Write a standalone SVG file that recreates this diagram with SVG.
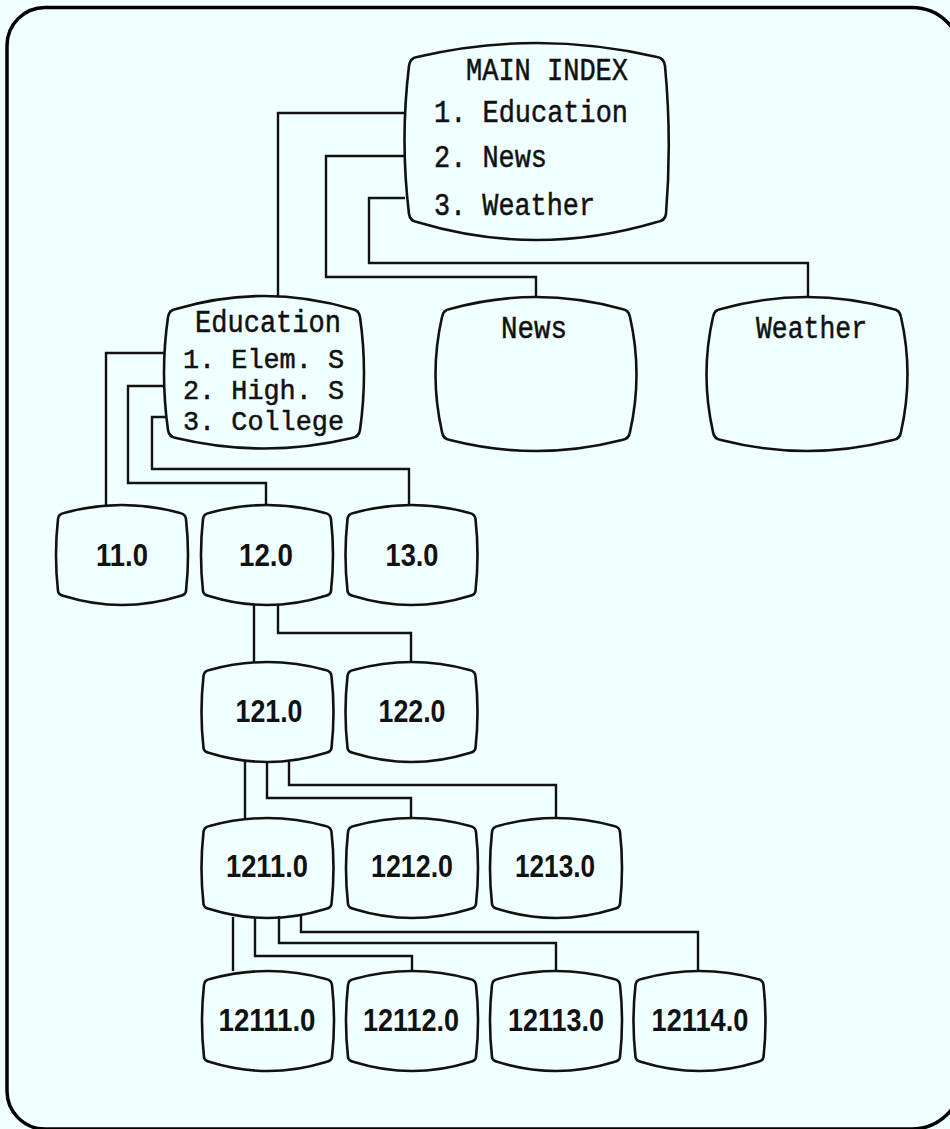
<svg xmlns="http://www.w3.org/2000/svg" xmlns:xlink="http://www.w3.org/1999/xlink" width="950" height="1129" viewBox="0 0 950 1129">
<style>
.bg{fill:#f0ffff}
.frame{fill:none;stroke:#000;stroke-width:3.5}
.box{fill:none;stroke:#111;stroke-width:2.6;stroke-linejoin:round}
.conn{fill:none;stroke:#111;stroke-width:2.4;stroke-linejoin:miter}
.tw{font-family:"Liberation Mono","Courier New",monospace;font-size:31px;fill:#111;stroke:#111;stroke-width:0.5}
.tws{font-size:28px}
.num{font-family:"Liberation Sans",Arial,sans-serif;font-weight:bold;font-size:31px;fill:#111;text-anchor:middle}
</style>
<defs>
<path id="tv" d="M-58,8 Q0,-8 58,8 Q63.5,9 64,14 Q68,50 64,86 Q63.5,90 58,91 Q0,109 -58,91 Q-63.5,90 -64,86 Q-68,50 -64,14 Q-63.5,9 -58,8 Z"/>
</defs>
<rect class="bg" x="0" y="0" width="950" height="1129"/>
<path class="frame" d="M45,7.5 H912 A50,50 0 0 1 962,57.5 V1079 A50,50 0 0 1 912,1129 H45 A38,38 0 0 1 7,1091 V45.5 A38,38 0 0 1 45,7.5 Z"/>

<g id="connectors">
<path class="conn" d="M405,113 H278 V297"/>
<path class="conn" d="M404,156 H326 V277 H536 V297"/>
<path class="conn" d="M405,198 H369 V263 H808 V297"/>
<path class="conn" d="M164,353 H106 V506"/>
<path class="conn" d="M165,386 H128 V483 H266 V506"/>
<path class="conn" d="M166,417 H152 V469 H409 V506"/>
<path class="conn" d="M254,604 V662"/>
<path class="conn" d="M278,604 V633 H411 V662"/>
<path class="conn" d="M245,761 V818"/>
<path class="conn" d="M267,761 V798 H411 V818"/>
<path class="conn" d="M289,760 V785 H556 V818"/>
<path class="conn" d="M233,917 V971"/>
<path class="conn" d="M255,917 V956 H412 V971"/>
<path class="conn" d="M279,916 V943 H556 V971"/>
<path class="conn" d="M301,915 V932 H698 V971"/>
</g>

<g id="main-index">
<path class="box" d="M417,57 Q536,29 657,57 Q664,58 665,66 Q672,140 666,214 Q665,221 657,222 Q536,258 417,222 Q410,221 409,214 Q400,140 409,66 Q410,58 417,57 Z"/>
<text class="tw" x="466" y="80" textLength="162" lengthAdjust="spacingAndGlyphs">MAIN INDEX</text>
<text class="tw" x="434" y="122" textLength="194" lengthAdjust="spacingAndGlyphs">1. Education</text>
<text class="tw" x="434" y="167" textLength="113" lengthAdjust="spacingAndGlyphs">2. News</text>
<text class="tw" x="434" y="215" textLength="161" lengthAdjust="spacingAndGlyphs">3. Weather</text>
</g>

<g id="education">
<path class="box" d="M176,309 Q264,283 352,309 Q359,310 360,317 Q368,373 360,430 Q359,437 352,438 Q264,459 176,438 Q169,437 168,430 Q160,373 168,317 Q169,310 176,309 Z"/>
<text class="tw" x="195" y="332" textLength="146" lengthAdjust="spacingAndGlyphs">Education</text>
<text class="tw tws" x="183" y="368" textLength="161" lengthAdjust="spacingAndGlyphs">1. Elem. S</text>
<text class="tw tws" x="183" y="399" textLength="161" lengthAdjust="spacingAndGlyphs">2. High. S</text>
<text class="tw tws" x="183" y="430" textLength="161" lengthAdjust="spacingAndGlyphs">3. College</text>
</g>

<g id="news">
<path class="box" d="M450,309 Q536,285 622,309 Q629,310 630,317 Q643,374 630,432 Q629,439 622,440 Q536,462 450,440 Q443,439 442,432 Q429,374 442,317 Q443,310 450,309 Z"/>
<text class="tw" x="501" y="338" textLength="66" lengthAdjust="spacingAndGlyphs">News</text>
</g>

<g id="weather">
<path class="box" d="M721,309 Q807,285 893,309 Q900,310 901,317 Q914,374 901,432 Q900,439 893,440 Q807,462 721,440 Q714,439 713,432 Q700,374 713,317 Q714,310 721,309 Z"/>
<text class="tw" x="756" y="338" textLength="111" lengthAdjust="spacingAndGlyphs">Weather</text>
</g>

<g id="n11"><use xlink:href="#tv" href="#tv" class="box" x="122" y="505"/><text class="num" x="122" y="566" textLength="52" lengthAdjust="spacingAndGlyphs">11.0</text></g>
<g id="n12"><use xlink:href="#tv" href="#tv" class="box" x="267" y="505"/><text class="num" x="266" y="566" textLength="54" lengthAdjust="spacingAndGlyphs">12.0</text></g>
<g id="n13"><use xlink:href="#tv" href="#tv" class="box" x="411.5" y="505"/><text class="num" x="412" y="566" textLength="53" lengthAdjust="spacingAndGlyphs">13.0</text></g>

<g id="n121"><use xlink:href="#tv" href="#tv" class="box" x="267.5" y="662"/><text class="num" x="269" y="722" textLength="67" lengthAdjust="spacingAndGlyphs">121.0</text></g>
<g id="n122"><use xlink:href="#tv" href="#tv" class="box" x="411.5" y="662"/><text class="num" x="412" y="722" textLength="67" lengthAdjust="spacingAndGlyphs">122.0</text></g>

<g id="n1211"><use xlink:href="#tv" href="#tv" class="box" x="267.5" y="818"/><text class="num" x="267" y="877" textLength="82" lengthAdjust="spacingAndGlyphs">1211.0</text></g>
<g id="n1212"><use xlink:href="#tv" href="#tv" class="box" x="412" y="818"/><text class="num" x="412" y="877" textLength="82" lengthAdjust="spacingAndGlyphs">1212.0</text></g>
<g id="n1213"><use xlink:href="#tv" href="#tv" class="box" x="556" y="818"/><text class="num" x="555" y="877" textLength="80" lengthAdjust="spacingAndGlyphs">1213.0</text></g>

<g id="n12111"><use xlink:href="#tv" href="#tv" class="box" x="268" y="971"/><text class="num" x="267" y="1031" textLength="97" lengthAdjust="spacingAndGlyphs">12111.0</text></g>
<g id="n12112"><use xlink:href="#tv" href="#tv" class="box" x="412" y="971"/><text class="num" x="411" y="1031" textLength="96" lengthAdjust="spacingAndGlyphs">12112.0</text></g>
<g id="n12113"><use xlink:href="#tv" href="#tv" class="box" x="556" y="971"/><text class="num" x="556" y="1031" textLength="96" lengthAdjust="spacingAndGlyphs">12113.0</text></g>
<g id="n12114"><use xlink:href="#tv" href="#tv" class="box" x="699.5" y="971"/><text class="num" x="700" y="1031" textLength="97" lengthAdjust="spacingAndGlyphs">12114.0</text></g>
</svg>
